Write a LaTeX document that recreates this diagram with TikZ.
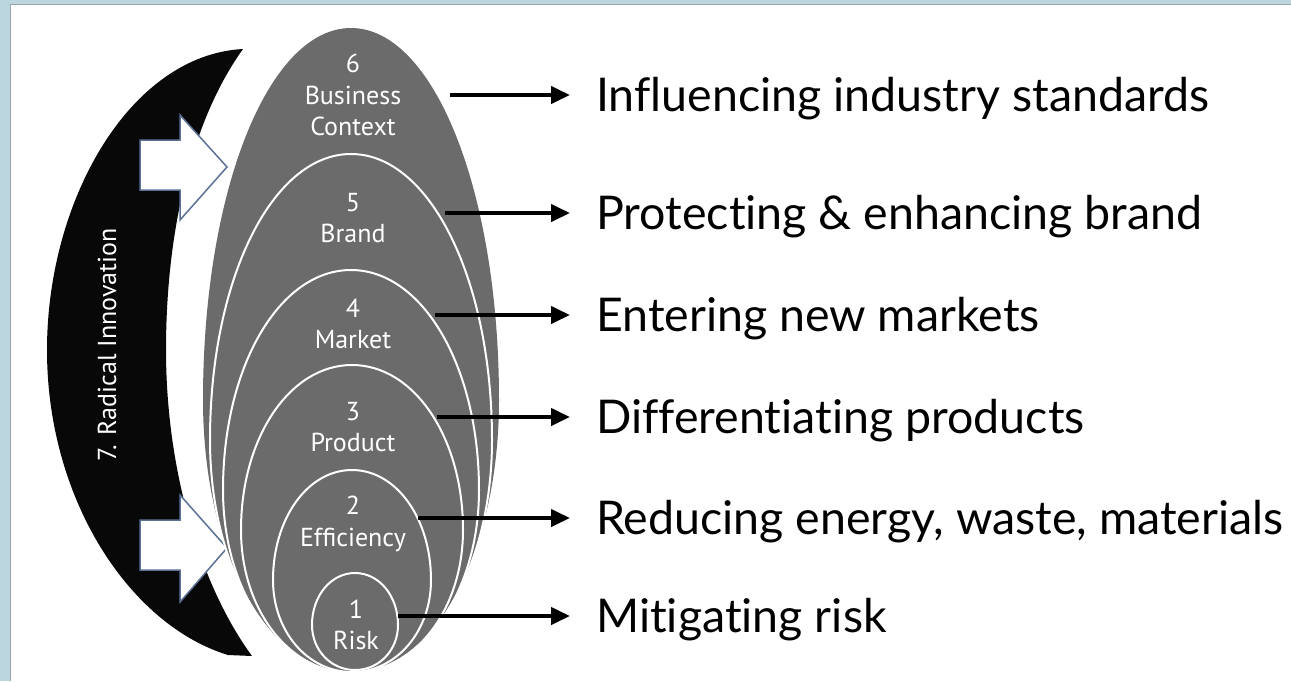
\documentclass[tikz,border=0pt]{standalone}
\usepackage{fontspec}
\usetikzlibrary{arrows.meta}
\newfontfamily\labfont{PT Sans}
\newfontfamily\bigfont[Ligatures=NoCommon]{Lato}
\definecolor{bgblue}{HTML}{BCD6E0}
\definecolor{framegray}{HTML}{9AA5AA}
\definecolor{eggray}{HTML}{6B6B6B}
\definecolor{crescent}{HTML}{080808}
\definecolor{arrowedge}{HTML}{5B7196}
\newcommand\eggpath[5]{(#1,#2) .. controls ({#1-0.56*#5},#2) and ({#1-#5},{#3-0.56*(#3-#2)}) .. ({#1-#5},#3) .. controls ({#1-#5},{#3+0.56*(#4-#3)}) and ({#1-0.56*#5},#4) .. (#1,#4) .. controls ({#1+0.56*#5},#4) and ({#1+#5},{#3+0.56*(#4-#3)}) .. ({#1+#5},#3) .. controls ({#1+#5},{#3-0.56*(#3-#2)}) and ({#1+0.56*#5},#2) .. (#1,#2) -- cycle}
\tikzset{
  inner/.style={draw=white, line width=2pt},
  lab/.style={text=white, align=center, inner sep=0pt, font=\labfont\fontsize{26}{31.5}\selectfont},
  goal/.style={anchor=base west, inner xsep=26pt, inner ysep=0pt, font=\bigfont\fontsize{46.5}{52}\selectfont},
  link/.style={line width=4pt, -{Triangle[length=19pt,width=17pt]}},
  blockarrow/.style={fill=white, draw=arrowedge, line width=1.5pt, line join=miter}
}
\begin{document}
\begin{tikzpicture}[x=1pt,y=-1pt]
\useasboundingbox (0,0) rectangle (1291,681);
% frame
\fill[bgblue] (0,0) rectangle (1291,681);
\fill[white] (10,4) rectangle (1291,681);
\draw[framegray, line width=1.2pt] (10.5,681) -- (10.5,4.5) -- (1291,4.5);
% crescent
\fill[crescent] (243,49) .. controls (130,55) and (47,200) .. (47,350)
  .. controls (47,500) and (130,625) .. (228,655) -- (252,656)
  .. controls (200,585) and (166,470) .. (166,350)
  .. controls (166,230) and (192,120) .. (243,49) -- cycle;
\node[text=white, rotate=90, font=\labfont\fontsize{26}{30}\selectfont] (radical) at (107,345) {7. Radical Innovation};
% block arrows
\draw[blockarrow] (140,140) -- (180,140) -- (180,115) -- (227,167) -- (180,220) -- (180,190) -- (140,190) -- cycle;
\draw[blockarrow] (140,520) -- (180,520) -- (180,495) -- (227,548) -- (180,602) -- (180,570) -- (140,570) -- cycle;
% eggs
\fill[eggray] \eggpath{351}{28}{400}{673}{148};
\draw[inner] \eggpath{351}{154}{440}{673}{141};
\draw[inner] \eggpath{351}{270}{490}{673}{128};
\draw[inner] \eggpath{352}{365}{530}{673}{111};
\draw[inner] \eggpath{352}{470}{580}{672}{79};
\draw[inner] \eggpath{355}{573}{625}{670}{43};
% labels
\node[lab] (l6) at (353,95) {6\\Business\\Context};
\node[lab] (l5) at (353,218) {5\\Brand};
\node[lab] (l4) at (353,324) {4\\Market};
\node[lab] (l3) at (353,427) {3\\Product};
\node[lab] (l2) at (353,524) {2\\Efficiency};
\node[lab] (l1) at (356,625) {1\\Risk};
% start points
\coordinate (s6) at (450,95);
\coordinate (s5) at (445,213);
\coordinate (s4) at (435,315);
\coordinate (s3) at (437,417);
\coordinate (s2) at (418,518);
\coordinate (s1) at (398,616);
% goals
\node[goal] (t6) at (570,111) {Influencing industry standards};
\node[goal] (t5) at (570,229) {Protecting \& enhancing brand};
\node[goal] (t4) at (570,331) {Entering new markets};
\node[goal] (t3) at (570,433) {Differentiating products};
\node[goal] (t2) at (570,534) {Reducing energy, waste, materials};
\node[goal] (t1) at (570,632) {Mitigating risk};
\foreach \i in {1,...,6} \draw[link] (s\i) -- (s\i -| t\i.west);
\end{tikzpicture}
\end{document}
